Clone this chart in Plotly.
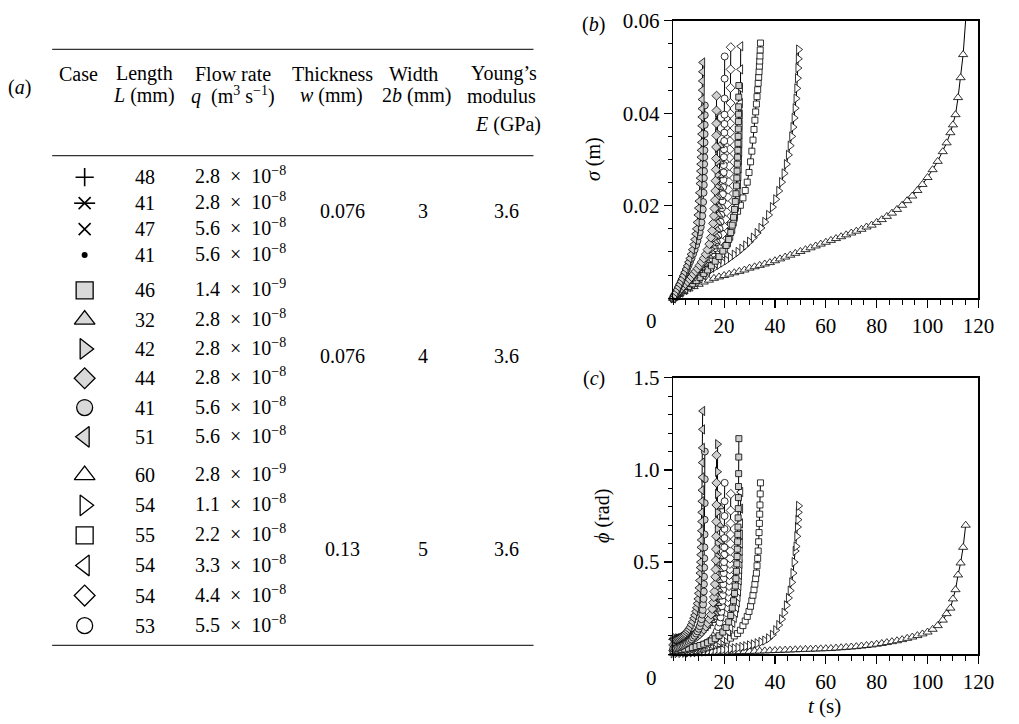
import plotly.graph_objects as go

W, H = 1019, 724
FONT = "Liberation Serif, Times New Roman, serif"

# ---------------- table data ----------------
lengths = [48, 41, 47, 41, 46, 32, 42, 44, 41, 51, 60, 54, 55, 54, 54, 53]
flow_mant = ["2.8", "2.8", "5.6", "5.6", "1.4", "2.8", "2.8", "2.8", "5.6", "5.6",
             "2.8", "1.1", "2.2", "3.3", "4.4", "5.5"]
flow_exp = [-8, -8, -8, -8, -9, -8, -8, -8, -8, -8, -9, -8, -8, -8, -8, -8]
groups = [0, 0, 0, 0, 1, 1, 1, 1, 1, 1, 2, 2, 2, 2, 2, 2]
thickness = ["0.076", "0.076", "0.13"]
width_2b = ["3", "4", "5"]
youngs = ["3.6", "3.6", "3.6"]
table_symbols = ["cross-thin-open", "asterisk", "x-thin-open", "circle",
                 "square", "triangle-up", "triangle-right", "diamond", "circle", "triangle-left",
                 "triangle-up", "triangle-right", "square", "triangle-left", "diamond", "circle"]
table_fill = ["none", "none", "none", "dot",
              "gray", "gray", "gray", "gray", "gray", "gray",
              "white", "white", "white", "white", "white", "white"]

# ---------------- series data (t in s, sigma in m, phi in rad) ----------------
t_T60 = [0, 2, 4, 6, 8, 10, 12, 14, 16, 18, 20, 22, 24, 26, 28, 30, 32, 34, 36, 38,
         40, 42, 44, 46, 48, 50, 52, 54, 56, 58, 60, 62, 64, 66, 68, 70, 72, 74, 76, 78,
         80, 82, 84, 86, 88, 90, 92, 94, 96, 98, 100, 102, 104, 106,
         107.5, 109, 110, 111, 112, 113, 114, 115]
sig_T60 = [0, .0008, .0014, .002, .0025, .003, .0035, .0039, .0043, .0046,
           .0049, .0052, .0055, .0058, .0061, .0065, .0068, .0071, .0074, .0077,
           .0081, .0085, .0089, .0093, .0097, .0101, .0105, .0109, .0113, .0117,
           .0121, .0125, .0129, .0133, .0137, .0141, .0145, .0149, .0154, .0158,
           .0164, .017, .0177, .0184, .0192, .0201, .0211, .0221, .0233, .0246,
           .0261, .0278, .0296, .0317,
           .0336, .0358, .0375, .0397, .0434, .0477, .0527, .0602]
phi_T60 = [.005, .006, .007, .007, .008, .008, .009, .009, .01, .01,
           .011, .012, .013, .014, .015, .015, .016, .017, .018, .019,
           .02, .021, .022, .023, .024, .025, .026, .027, .028, .029,
           .03, .031, .033, .035, .037, .039, .041, .044, .047, .05,
           .054, .058, .063, .068, .073, .079, .086, .093, .101, .11,
           .12, .135, .155, .185,
           .22, .25, .30, .35, .43, .495, .58, .70]

t_R54 = [0, 1.5, 3, 4.5, 6, 7.5, 9, 10.5, 12, 13.5, 15, 16.5, 18, 19.5, 21, 22.5, 24,
         25.5, 27, 28.5, 30, 31.5, 33, 34.5, 36, 37.5, 39,
         40.3, 41.5, 42.6, 43.6, 44.5, 45.3, 46.0, 46.6, 47.1,
         47.55, 47.95, 48.3, 48.6, 48.85, 49.05, 49.2, 49.3]
sig_R54 = [0, .0009, .0017, .0024, .003, .0036, .0042, .0047, .0052, .0057, .0062, .0067,
           .0072, .0077, .0082, .0088, .0094, .01, .0107, .0114, .0122, .0131, .0141,
           .0152, .0165, .018, .0197,
           .0214, .0232, .0251, .027, .029, .031, .033, .035, .037,
           .039, .0411, .0432, .0454, .0476, .0498, .0518, .0538]
phi_R54 = [.005, .006, .007, .008, .009, .01, .011, .012, .014, .016, .018, .02, .022,
           .024, .026, .029, .032, .035, .039, .043, .048, .053, .059, .066, .074, .086, .105,
           .13, .158, .19, .225, .265, .305, .345, .39, .44,
           .5, .56, .585, .64, .69, .73, .77, .805]

t_S55 = [0, 1.5, 3, 4.5, 6, 7.5, 9, 10.5, 12, 13.5, 15, 16.5, 18, 19.5, 21, 22.5, 24,
         25.3, 26.4, 27.4, 28.3, 29.1, 29.8, 30.4, 30.9, 31.35, 31.75,
         32.1, 32.4, 32.7, 32.95, 33.2, 33.4, 33.58, 33.74, 33.88, 34.0, 34.1, 34.2, 34.3]
sig_S55 = [0, .0009, .0018, .0027, .0036, .0045, .0054, .0063, .0072, .0082, .0093, .0105,
           .0117, .013, .0144, .0158, .0173,
           .0188, .0201, .0217, .0233, .0251, .0272, .0295, .0318, .0342, .0365,
           .0385, .0403, .042, .0436, .0451, .0465, .0478, .049, .0502, .0513, .0524, .0537, .0552]
phi_S55 = [.01, .01, .011, .012, .014, .016, .019, .023, .028, .035, .042, .05, .058, .067,
           .076, .087, .099,
           .112, .13, .155, .18, .205, .232, .26, .29, .32, .35,
           .38, .41, .44, .48, .52, .56, .61, .66, .71, .76, .81, .87, .93]

t_L54 = [0, 1.5, 3, 4.5, 6, 7.5, 9, 10.5, 12, 13.5, 15, 16.5, 18,
         19.4, 20.6, 21.7, 22.6, 23.4, 24.0, 24.5, 24.9, 25.2, 25.45,
         25.65, 25.8, 25.93, 26.04, 26.13, 26.2, 26.26, 26.31, 26.36, 26.4, 26.44, 26.48, 26.52]
sig_L54 = [0, .0006, .0012, .0018, .0024, .003, .0036, .0043, .005, .0058, .0066, .0075, .0085,
           .0096, .0108, .0121, .0135, .015, .0166, .0182, .0198, .0214, .023,
           .0247, .0264, .0281, .0299, .0317, .0336, .0355, .0375, .0397, .0422, .0455, .0495, .0545]
phi_L54 = [.02, .02, .021, .022, .024, .026, .029, .033, .038, .044, .051, .06, .071,
           .085, .102, .122, .145, .17, .197, .225, .253, .281, .31,
           .34, .37, .4, .43, .46, .49, .52, .56, .6, .65, .71, .79, .88]

t_D54 = [0, 1.3, 2.6, 3.9, 5.2, 6.5, 7.8, 9.1, 10.4, 11.7, 13, 14.3, 15.6,
         16.8, 17.8, 18.7, 19.4, 20.0, 20.5, 20.9, 21.2, 21.45, 21.65,
         21.8, 21.93, 22.04, 22.13, 22.21, 22.28, 22.34, 22.4, 22.45, 22.5, 22.54, 22.58, 22.62]
sig_D54 = [0, .0006, .0012, .0018, .0024, .003, .0036, .0043, .005, .0058, .0066, .0075, .0085,
           .0097, .011, .0124, .0139, .0155, .0171, .0187, .0203, .0219, .0235,
           .0252, .0269, .0286, .0304, .0322, .034, .0358, .0378, .0399, .0422, .0455, .0495, .0543]
phi_D54 = [.02, .02, .021, .022, .024, .027, .03, .034, .039, .045, .052, .061, .072,
           .086, .103, .123, .146, .171, .198, .226, .254, .282, .31,
           .34, .37, .4, .43, .46, .49, .52, .56, .6, .65, .71, .78, .87]

t_C53 = [0, 1.2, 2.4, 3.6, 4.8, 6, 7.2, 8.4, 9.6, 10.8, 12, 13.2, 14.4,
         15.5, 16.4, 17.1, 17.7, 18.2, 18.6, 18.9, 19.15, 19.35, 19.5,
         19.62, 19.72, 19.8, 19.87, 19.93, 19.98, 20.03, 20.07, 20.11, 20.14, 20.17, 20.2, 20.22]
sig_C53 = [0, .0006, .0012, .0018, .0024, .003, .0036, .0043, .005, .0058, .0066, .0075, .0085,
           .0096, .0108, .0121, .0135, .015, .0165, .018, .0195, .021, .0225,
           .024, .0256, .0272, .0288, .0305, .0322, .034, .0358, .0377, .0397, .0432, .0475, .0523]
phi_C53 = [.02, .02, .021, .023, .025, .028, .031, .035, .04, .046, .053, .062, .073,
           .087, .104, .124, .147, .172, .2, .23, .26, .29, .32,
           .35, .38, .41, .44, .47, .5, .54, .58, .63, .68, .75, .83, .93]

t_GS46 = [0, 1.5, 3, 4.5, 6, 7.5, 9, 10.5, 12, 13.5, 15, 16.5, 18, 19.5,
          20.8, 21.8, 22.6, 23.2, 23.7, 24.1, 24.4, 24.65, 24.85, 25.0,
          25.1, 25.2, 25.3, 25.38, 25.45, 25.52, 25.58, 25.63, 25.68, 25.72, 25.76, 25.8]
sig_GS46 = [0, .0006, .0012, .0018, .0025, .0031, .0038, .0045, .0053, .0061, .007, .008, .009, .0102,
            .0114, .0127, .0142, .0158, .0175, .0192, .0209, .0226, .0243, .026,
            .0275, .029, .0305, .032, .0335, .035, .0366, .0382, .0398, .0414, .0435, .046]
phi_GS46 = [.02, .022, .025, .028, .032, .036, .041, .047, .054, .062, .072, .084, .1, .12,
            .145, .175, .21, .25, .29, .33, .37, .41, .45, .49,
            .53, .57, .61, .65, .69, .74, .79, .85, .91, .98, 1.07, 1.17]

t_GT32 = [0, 1, 2, 3, 4, 5, 6, 7, 8, 9, 10, 11, 12, 13, 14, 15,
          15.8, 16.4, 16.9, 17.3, 17.6, 17.8, 17.95, 18.05, 18.15, 18.22, 18.28, 18.33]
sig_GT32 = [0, .0006, .0012, .0018, .0024, .003, .0036, .0042, .0048, .0054, .006, .0067, .0074,
            .0082, .0091, .0101, .0111, .0122, .0134, .0148, .0163, .018,
            .0198, .0218, .024, .0265, .0295, .033]
phi_GT32 = [.09, .09, .09, .092, .094, .097, .10, .104, .109, .115, .122, .13, .14, .152, .166, .183,
            .2, .22, .245, .275, .31, .35, .40, .46, .53, .61, .70, .80]

t_GR42 = [0, 1, 2, 3, 4, 5, 6, 7, 8, 9, 10, 11, 12, 13, 14,
          14.8, 15.5, 16.0, 16.4, 16.7, 16.9,
          17.05, 17.15, 17.22, 17.28, 17.33, 17.37, 17.4, 17.43, 17.45]
sig_GR42 = [0, .0007, .0013, .0019, .0025, .0031, .0037, .0043, .0049, .0055, .0062, .0069, .0077,
            .0086, .0096, .0106, .0118, .013, .0143, .0158, .0175,
            .0195, .0217, .0241, .0267, .0295, .0325, .0357, .038, .0402]
phi_GR42 = [.06, .06, .062, .065, .068, .072, .077, .083, .09, .098, .108, .12, .134, .15, .17,
            .19, .215, .245, .28, .32, .36,
            .41, .47, .53, .6, .68, .77, .87, .99, 1.14]

t_GD44 = [0, 0.8, 1.6, 2.4, 3.2, 4, 4.8, 5.6, 6.4, 7.2, 8, 8.8, 9.6, 10.4, 11.2, 12, 12.8,
          13.5, 14.2, 14.8, 15.3, 15.7, 16.0, 16.2, 16.4,
          16.55, 16.65, 16.75, 16.82, 16.88, 16.93, 16.97, 17.0, 17.03]
sig_GD44 = [0, .0006, .0011, .0016, .0021, .0026, .0031, .0036, .0041, .0046, .0052, .0058, .0064,
            .0071, .0078, .0086, .0095,
            .0105, .0117, .0131, .0146, .0162, .0178, .0194, .0212,
            .0232, .0254, .0278, .0302, .0327, .0352, .0378, .0406, .0438]
phi_GD44 = [.05, .05, .052, .054, .057, .06, .064, .068, .073, .078, .084, .091, .099, .108, .12,
            .134, .15,
            .168, .19, .215, .245, .28, .31, .34, .38,
            .42, .46, .51, .57, .64, .72, .81, .93, 1.08]

t_GC41 = [0, 0.6, 1.2, 1.8, 2.4, 3, 3.6, 4.2, 4.8, 5.4, 6, 6.6, 7.2, 7.8, 8.4, 9,
          9.5, 10, 10.4, 10.8, 11.1, 11.4,
          11.6, 11.75, 11.9, 12.0, 12.05, 12.1, 12.15, 12.2, 12.25, 12.3, 12.33, 12.36, 12.39, 12.42]
sig_GC41 = [0, .0007, .0014, .0021, .0028, .0035, .0042, .0049, .0056, .0063, .0071, .0079, .0087,
            .0096, .0105, .0115,
            .0124, .0134, .0143, .0154, .0164, .0178,
            .0192, .0208, .0228, .0245, .026, .0275, .029, .0305, .032, .0337, .0355, .0375, .0396, .0417]
phi_GC41 = [.03, .03, .032, .035, .038, .042, .046, .05, .055, .06, .066, .073, .08, .09, .10, .112,
            .124, .138, .152, .17, .19, .215,
            .24, .27, .30, .34, .38, .42, .47, .52, .58, .65, .73, .82, .95, 1.10]

t_GL51 = [0, 0.5, 1, 1.5, 2, 2.5, 3, 3.5, 4, 4.5, 5, 5.5, 6, 6.5, 7, 7.5, 8,
          8.4, 8.8, 9.1, 9.4, 9.7, 9.9, 10.1, 10.3, 10.5,
          10.6, 10.7, 10.8, 10.9, 11.0, 11.1,
          11.15, 11.2, 11.25, 11.3, 11.35, 11.4, 11.45, 11.5, 11.55]
sig_GL51 = [0, .0006, .0012, .0018, .0024, .003, .0036, .0042, .0049, .0056, .0063, .007, .0078,
            .0086, .0095, .0105, .0116,
            .0127, .0139, .015, .0164, .018, .0195, .021, .0228, .0248,
            .026, .0275, .029, .0305, .032, .0337,
            .0355, .0373, .0392, .041, .043, .045, .047, .049, .051]
phi_GL51 = [.08, .08, .082, .085, .088, .092, .096, .10, .105, .11, .118, .126, .135, .146, .16,
            .176, .195,
            .212, .232, .252, .275, .30, .33, .36, .40, .44,
            .47, .50, .54, .58, .62, .67,
            .72, .77, .83, .89, .96, 1.04, 1.12, 1.22, 1.32]

# series order (drawn first to last) with marker style
GRAY = "#d0d0d0"
series = [
    (t_T60, sig_T60, phi_T60, "triangle-up", "white", 8),
    (t_R54, sig_R54, phi_R54, "triangle-right", "white", 8),
    (t_S55, sig_S55, phi_S55, "square", "white", 6),
    (t_L54, sig_L54, phi_L54, "triangle-left", "white", 8),
    (t_D54, sig_D54, phi_D54, "diamond", "white", 7),
    (t_C53, sig_C53, phi_C53, "circle", "white", 7),
    (t_GS46, sig_GS46, phi_GS46, "square", GRAY, 6),
    (t_GT32, sig_GT32, phi_GT32, "triangle-up", GRAY, 8),
    (t_GR42, sig_GR42, phi_GR42, "triangle-right", GRAY, 8),
    (t_GD44, sig_GD44, phi_GD44, "diamond", GRAY, 7),
    (t_GC41, sig_GC41, phi_GC41, "circle", GRAY, 7),
    (t_GL51, sig_GL51, phi_GL51, "triangle-left", GRAY, 8),
]

fig = go.Figure()

# thin model lines underneath the markers
for t, s, p, sym, fill, sz in series:
    fig.add_trace(go.Scatter(x=t, y=s, mode="lines", line=dict(color="black", width=1),
                             xaxis="x", yaxis="y", showlegend=False, hoverinfo="skip"))
    fig.add_trace(go.Scatter(x=t, y=p, mode="lines", line=dict(color="black", width=1),
                             xaxis="x2", yaxis="y2", showlegend=False, hoverinfo="skip"))
for t, s, p, sym, fill, sz in series:
    mk = dict(symbol=sym, size=sz, color=fill, line=dict(color="black", width=0.8))
    fig.add_trace(go.Scatter(x=t, y=s, mode="markers", marker=mk, cliponaxis=False,
                             xaxis="x", yaxis="y", showlegend=False))
    fig.add_trace(go.Scatter(x=t, y=p, mode="markers", marker=mk, cliponaxis=False,
                             xaxis="x2", yaxis="y2", showlegend=False))

# ---------------- table ----------------
group_top = [168, 283, 471]
group_step = [26.4, 29.8, 30.6]
group_mid = [202, 350, 546]
col_case, col_len, col_flow, col_thk, col_w, col_E = 86, 147, 196, 348, 430, 515
row_y = []
cnt = [0, 0, 0]
for g in groups:
    row_y.append(group_top[g] + cnt[g] * group_step[g])
    cnt[g] += 1

TGRAY = "#d9d9d9"
sym_sizes = {"cross-thin-open": 13, "x-thin-open": 12, "circle": 16,
             "square": 17, "triangle-up": 18, "triangle-right": 18, "triangle-left": 18,
             "diamond": 16}


def table_marker(y, mk):
    fig.add_trace(go.Scatter(x=[col_case], y=[y], mode="markers", marker=mk,
                             xaxis="x3", yaxis="y3", showlegend=False, cliponaxis=False,
                             hoverinfo="skip"))


for i, (sym, fl) in enumerate(zip(table_symbols, table_fill)):
    y = row_y[i]
    if fl == "dot":
        table_marker(y, dict(symbol="circle", size=6, color="black"))
    elif sym == "asterisk":
        table_marker(y, dict(symbol="x-thin-open", size=12, color="black",
                             line=dict(color="black", width=1.6)))
        table_marker(y, dict(symbol="line-ew-open", size=15, color="black",
                             line=dict(color="black", width=1.6)))
    elif fl == "none":
        table_marker(y, dict(symbol=sym, size=sym_sizes[sym], color="black",
                             line=dict(color="black", width=1.6)))
    else:
        table_marker(y, dict(symbol=sym, size=sym_sizes[sym],
                             color=(TGRAY if fl == "gray" else "white"),
                             line=dict(color="black", width=1.3)))

ann = []


def txt(x, y, text, xanchor="center", size=20, angle=0):
    ann.append(dict(x=x, y=y, xref="x3", yref="y3", text=text, showarrow=False,
                    xanchor=xanchor, yanchor="middle", textangle=angle,
                    font=dict(family=FONT, size=size, color="black")))


for i in range(len(lengths)):
    txt(col_len, row_y[i], str(lengths[i]))
    txt(col_flow, row_y[i] - 2,
        f"{flow_mant[i]}\u2002×\u200210<sup>\u2212{abs(flow_exp[i])}</sup>", xanchor="left")
for g in range(3):
    txt(col_thk, group_mid[g], thickness[g])
    txt(col_w, group_mid[g], width_2b[g])
    txt(col_E, group_mid[g], youngs[g])

# header
hdr1 = [(80, "Case"), (147, "Length"), (237, "Flow rate"), (338, "Thickness"),
        (420, "Width"), (512, "Young\u2019s")]
hdr2 = [(146, "<i>L</i> (mm)"), (237, "<i>q</i>\u2002(m<sup>3</sup> s<sup>\u22121</sup>)"),
        (337, "<i>w</i> (mm)"), (423, "2<i>b</i> (mm)"), (510, "modulus")]
for x, s in hdr1:
    txt(x, 63, s)
for x, s in hdr2:
    txt(x, 85, s)
txt(516, 114, "<i>E</i> (GPa)")
txt(20, 77, "(<i>a</i>)")

# panel labels and axis titles
txt(603, 13, "(<i>b</i>)")
txt(603, 373, "(<i>c</i>)")
txt(603, 150, "<i>σ</i> (m)", angle=-90)
txt(612, 512, "<i>ϕ</i> (rad)", angle=-90)
txt(838, 706, "<i>t</i> (s)", size=21)
txt(662, 314, "0", size=21)
txt(662, 677, "0", size=21)

shapes = []
for yy in (38, 146, 644):
    shapes.append(dict(type="line", xref="x3", yref="y3", x0=53, x1=542, y0=yy, y1=yy,
                       line=dict(color="#333333", width=1.3)))

xd = [684 / W, 994 / W]
yb = [1 - 291 / H, 1 - 9 / H]
yc = [1 - 653 / H, 1 - 372 / H]

TICKF = dict(family=FONT, size=21, color="black")
xt = [20, 40, 60, 80, 100, 120]
x_minor = list(range(0, 121, 5))

common_x = dict(range=[0, 120], tickmode="array", tickvals=xt, ticktext=[str(v) for v in xt],
                ticks="outside", ticklen=8, tickwidth=1.2, tickcolor="black",
                minor=dict(tickmode="array", tickvals=x_minor, ticks="outside", ticklen=5,
                           tickwidth=1, tickcolor="black"),
                showline=True, linecolor="black", linewidth=1.5, mirror=True,
                showgrid=False, zeroline=False, tickfont=TICKF, fixedrange=True)

yb_ticks = [0.02, 0.04, 0.06]
yb_txt = ["0.02", "0.04", "0.06"]
yb_minor = [i * 0.005 for i in range(13)]
yc_ticks = [0.5, 1.0, 1.5]
yc_txt = ["0.5", "1.0", "1.5"]
yc_minor = [i * 0.1 for i in range(16)]


def yax(rng, tv, tt, mv, dom, anchor):
    return dict(range=rng, domain=dom, anchor=anchor, tickmode="array", tickvals=tv, ticktext=tt,
                ticks="outside", ticklen=8, tickwidth=1.2, tickcolor="black",
                minor=dict(tickmode="array", tickvals=mv, ticks="outside", ticklen=4,
                           tickwidth=1, tickcolor="black"),
                showline=True, linecolor="black", linewidth=1.5, mirror=True,
                showgrid=False, zeroline=False, tickfont=TICKF, fixedrange=True)


fig.update_layout(
    width=W, height=H, margin=dict(l=0, r=0, t=0, b=0),
    paper_bgcolor="white", plot_bgcolor="rgba(0,0,0,0)",
    font=dict(family=FONT, size=20, color="black"),
    showlegend=False,
    xaxis=dict(common_x, domain=xd, anchor="y"),
    yaxis=yax([0, 0.06], yb_ticks, yb_txt, yb_minor, yb, "x"),
    xaxis2=dict(common_x, domain=xd, anchor="y2"),
    yaxis2=yax([0, 1.5], yc_ticks, yc_txt, yc_minor, yc, "x2"),
    xaxis3=dict(domain=[0, 1], range=[0, W], visible=False, anchor="y3", fixedrange=True),
    yaxis3=dict(domain=[0, 1], range=[H, 0], visible=False, anchor="x3", fixedrange=True),
    annotations=ann, shapes=shapes,
)

fig.write_html("out.html", config={"displayModeBar": False, "staticPlot": True},
               post_script="document.body.style.margin='0px';document.body.style.overflow='hidden';")
